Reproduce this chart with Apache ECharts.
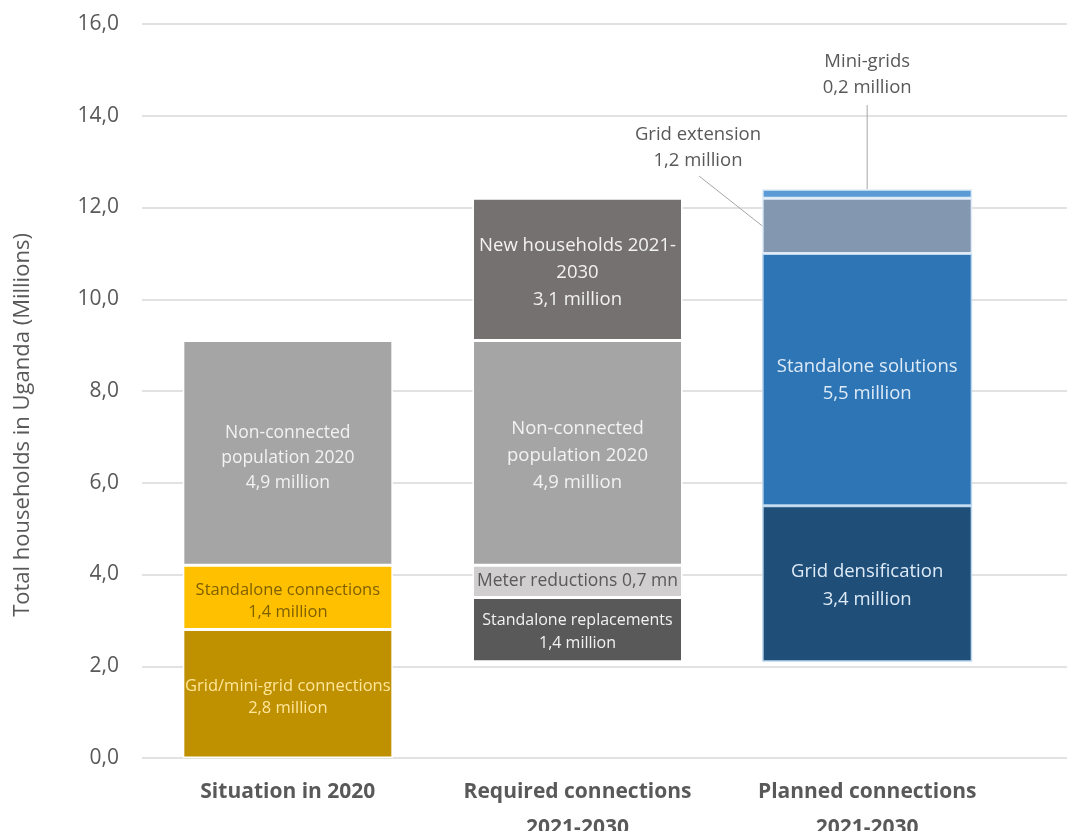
<!DOCTYPE html>
<html>
<head>
<meta charset="utf-8">
<title>Household connections in Uganda</title>
<script src="https://cdn.jsdelivr.net/npm/echarts@6/dist/echarts.min.js"></script>
<style>
  html, body { margin: 0; padding: 0; background: #ffffff; }
  #chart { width: 1067px; height: 831px; }
</style>
</head>
<body>
<div id="chart"></div>
<script>
// Categories on the x axis
const categories = ['Situation in 2020', 'Required connections\n2021-2030', 'Planned connections\n2021-2030'];

// Value axis range (millions of households)
const yMin = 0;
const yMax = 16;
const yStep = 2;

// Floating start of the 2021-2030 bars (households already connected)
const barOffsets = [0, 2.1, 2.1];

// Situation in 2020
const situationValues = [2.8, 1.4, 4.9];
const situationLabels = [
  'Grid/mini-grid connections\n{v} million',
  'Standalone connections\n{v} million',
  'Non-connected\npopulation 2020\n{v} million'
];

// Required connections 2021-2030
const requiredValues = [1.4, 0.7, 4.9, 3.1];
const requiredLabels = [
  'Standalone replacements\n{v} million',
  'Meter reductions {v} mn',
  'Non-connected\npopulation 2020\n{v} million',
  'New households 2021-\n2030\n{v} million'
];

// Planned connections 2021-2030
const plannedValues = [3.4, 5.5, 1.2, 0.2];
const plannedLabels = [
  'Grid densification\n{v} million',
  'Standalone solutions\n{v} million',
  'Grid extension\n{v} million',
  'Mini-grids\n{v} million'
];

// Segment styling
const FONT = '"Open Sans", "Liberation Sans", sans-serif';
const situationStyles = [
  { fill: '#BF9000', text: '#FFE699', size: 16.5, lh: 22, dy: 4 },
  { fill: '#FFC000', text: '#7F6000', size: 16.5, lh: 22, dy: 4 },
  { fill: '#A5A5A5', text: '#F2F2F2', size: 17.5, lh: 25, dy: 5 }
];
const requiredStyles = [
  { fill: '#595959', text: '#F2F2F2', size: 16, lh: 23, dy: 2 },
  { fill: '#D0CECE', text: '#595959', size: 17.5, lh: 23, dy: 0 },
  { fill: '#A5A5A5', text: '#F2F2F2', size: 18.5, lh: 27, dy: 3 },
  { fill: '#767171', text: '#F2F2F2', size: 18.5, lh: 27, dy: 3 }
];
const plannedStyles = [
  { fill: '#1F4E79', text: '#DEEBF7', size: 18.5, lh: 28, dy: 2, border: '#BDD7EE' },
  { fill: '#2E75B6', text: '#DEEBF7', size: 18.5, lh: 27, dy: 1, border: '#BDD7EE' },
  { fill: '#8497B0', callout: true, border: '#DEEBF7' },
  { fill: '#5B9BD5', callout: true, border: '#DEEBF7' }
];

const fmt = v => v.toFixed(1).replace('.', ',');
const labelText = (tpl, v) => tpl.replace('{v}', fmt(v));

const series = [{
  id: 'offset',
  type: 'bar',
  stack: 'total',
  silent: true,
  barCategoryGap: '27.5%',
  data: barOffsets.map(v => (v > 0 ? v : '-')),
  itemStyle: { color: 'transparent' },
  label: { show: false },
  z: 1
}];

const seriesIndex = {};
function addSegments(key, catIndex, values, labels, styles) {
  values.forEach((v, i) => {
    const st = styles[i];
    const text = labelText(labels[i], v);
    seriesIndex[key + i] = series.length;
    series.push({
      id: key + i,
      name: text.split('\n')[0],
      type: 'bar',
      stack: 'total',
      barCategoryGap: '27.5%',
      data: categories.map((_, c) => (c === catIndex ? v : '-')),
      itemStyle: { color: st.fill, borderColor: st.border || '#FFFFFF', borderWidth: 1.5 },
      label: {
        show: !st.callout,
        position: 'inside',
        offset: [0, st.dy || 0],
        formatter: () => text,
        color: st.text,
        fontSize: st.size,
        lineHeight: st.lh,
        fontFamily: FONT
      },
      emphasis: { disabled: true }
    });
  });
}
addSegments('situation', 0, situationValues, situationLabels, situationStyles);
addSegments('required', 1, requiredValues, requiredLabels, requiredStyles);
addSegments('planned', 2, plannedValues, plannedLabels, plannedStyles);

const chart = echarts.init(document.getElementById('chart'), null, { renderer: 'canvas' });

chart.setOption({
  animation: false,
  backgroundColor: '#FFFFFF',
  textStyle: { fontFamily: FONT },
  grid: [
    { left: 143, right: 55, top: 24, bottom: 73, containLabel: false, outerBoundsMode: 'none' },
    // full-width backdrop carrying the horizontal gridlines
    { left: 142, right: 0, top: 24, bottom: 73, containLabel: false, outerBoundsMode: 'none' }
  ],
  xAxis: [
    {
      type: 'category',
      gridIndex: 0,
      data: categories,
      axisLine: { show: false },
      axisTick: { show: false },
      axisLabel: {
        margin: 16,
        color: '#595959',
        fontSize: 21,
        fontWeight: 'bold',
        lineHeight: 36,
        fontFamily: FONT,
        interval: 0
      }
    },
    { type: 'value', gridIndex: 1, min: 0, max: 1, show: false }
  ],
  yAxis: [
    {
      type: 'value',
      gridIndex: 0,
      min: yMin,
      max: yMax,
      interval: yStep,
      axisLine: { show: false },
      axisTick: { show: false },
      splitLine: { show: false },
      axisLabel: {
        margin: 24,
        color: '#595959',
        fontSize: 21,
        fontFamily: FONT,
        formatter: v => fmt(v)
      }
    },
    {
      type: 'value',
      gridIndex: 1,
      min: yMin,
      max: yMax,
      interval: yStep,
      axisLine: { show: false },
      axisTick: { show: false },
      axisLabel: { show: false },
      splitLine: { show: true, lineStyle: { color: '#D9D9D9', width: 1.5 } }
    }
  ],
  series: series
});

// Callout labels for the two thin planned segments, plus the value-axis title
const model = chart.getModel();
function segmentRect(key) {
  const idx = seriesIndex[key];
  const l = model.getSeriesByIndex(idx).getData().getItemLayout(2);
  return {
    left: Math.min(l.x, l.x + l.width),
    right: Math.max(l.x, l.x + l.width),
    top: Math.min(l.y, l.y + l.height),
    bottom: Math.max(l.y, l.y + l.height)
  };
}
const extRect = segmentRect('planned2');
const miniRect = segmentRect('planned3');
const miniCx = (miniRect.left + miniRect.right) / 2;

const calloutStyle = { fontSize: 18.5, fontFamily: FONT, fill: '#595959', align: 'center', verticalAlign: 'middle', lineHeight: 26 };
const leader = { stroke: '#A6A6A6', lineWidth: 1 };

chart.setOption({
  graphic: [
    {
      type: 'text', x: 698, y: 148, z: 10,
      style: Object.assign({ text: labelText(plannedLabels[2], plannedValues[2]) }, calloutStyle)
    },
    {
      type: 'line', z: 10,
      shape: { x1: 699, y1: 176, x2: extRect.left, y2: (extRect.top + extRect.bottom) / 2 },
      style: leader
    },
    {
      type: 'text', x: miniCx, y: 75, z: 10,
      style: Object.assign({ text: labelText(plannedLabels[3], plannedValues[3]) }, calloutStyle)
    },
    {
      type: 'line', z: 10,
      shape: { x1: miniCx, y1: 105, x2: miniCx, y2: miniRect.top },
      style: leader
    },
    {
      type: 'text', x: 23, y: 425, rotation: Math.PI / 2, z: 10,
      style: {
        text: 'Total households in Uganda (Millions)',
        fontSize: 22, fontFamily: FONT, fill: '#595959',
        align: 'center', verticalAlign: 'middle'
      }
    }
  ]
});
</script>
</body>
</html>
